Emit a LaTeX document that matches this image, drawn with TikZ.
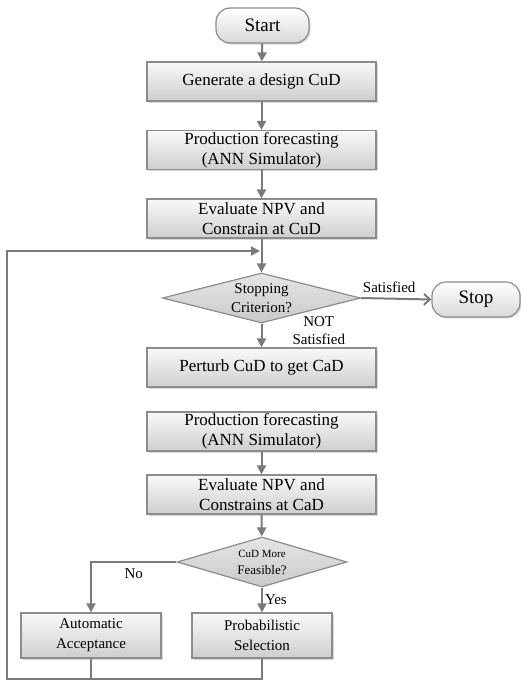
\documentclass[tikz,border=0pt]{standalone}
\usepackage{fontspec}
\setmainfont{Liberation Serif}
\usetikzlibrary{shapes.geometric,arrows.meta,shadows}
\definecolor{flowgray}{RGB}{122,122,122}
\definecolor{edgegray}{RGB}{140,140,140}
\begin{document}
\begin{tikzpicture}[x=1pt,y=-1pt]
    \tikzstyle{every node}+=[inner sep=0pt]
    \tikzstyle{procbox}=[rectangle, draw=edgegray, line width=1.2pt, top color=gray!5, bottom color=gray!38, drop shadow={opacity=0.3,shadow xshift=1.5pt,shadow yshift=-1.5pt}, minimum width=229pt, minimum height=39pt, align=center, font=\fontsize{17}{20}\selectfont]
    \tikzstyle{smallbox}=[procbox, minimum width=140pt, minimum height=45pt, font=\fontsize{15}{20}\selectfont]
    \tikzstyle{termbox}=[rectangle, rounded corners=14pt, draw=edgegray, line width=1.2pt, top color=white, bottom color=gray!30, drop shadow={opacity=0.3,shadow xshift=1.5pt,shadow yshift=-1.5pt}, minimum height=35pt, font=\fontsize{19}{22}\selectfont]
    \tikzstyle{decbox}=[diamond, draw=edgegray, line width=1.2pt, top color=gray!20, bottom color=gray!42, align=center, font=\fontsize{15}{19}\selectfont]
    \tikzstyle{flowline}=[draw=flowgray, line width=2pt]
    \tikzstyle{flowarrow}=[flowline, -{Triangle[length=9pt,width=9pt]}]
    \tikzstyle{flowlabel}=[font=\fontsize{15}{18}\selectfont, align=center]
    \useasboundingbox (0,0) rectangle (521,681);
    \node [termbox, minimum width=93pt] (start) at (262.5,25.5) {Start};
    \node [procbox] (gen) at (261.5,81.5) {Generate a design CuD};
    \node [procbox] (prod1) at (261.5,150) {Production forecasting\\(ANN Simulator)};
    \node [procbox] (eval1) at (261.5,218.5) {Evaluate NPV and\\Constrain at CuD};
    \node [decbox, shape aspect=3.9, minimum width=198pt, minimum height=50pt] (crit) at (261.5,298) {Stopping\\Criterion?};
    \node [termbox, minimum width=88pt] (stop) at (476,299.5) {Stop};
    \node [procbox] (perturb) at (261.5,367.5) {Perturb CuD to get CaD};
    \node [procbox] (prod2) at (261.5,431.5) {Production forecasting\\(ANN Simulator)};
    \node [procbox] (eval2) at (261.5,494.5) {Evaluate NPV and\\Constrains at CaD};
    \node [decbox, shape aspect=3.4, minimum width=170pt, minimum height=50pt, font=\fontsize{13}{17}\selectfont] (feas) at (262,562) {{\fontsize{11}{13}\selectfont CuD More}\\Feasible?};
    \node [smallbox] (auto) at (91,635.5) {Automatic\\Acceptance};
    \node [smallbox] (prob) at (262,635.5) {Probabilistic\\Selection};
    \coordinate (loopbl) at (7,679);
    \coordinate (looptl) at (7,251);
    \coordinate (loopin) at (260,251);
    \draw [flowarrow] (start) -- (gen);
    \draw [flowarrow] (gen) -- (prod1);
    \draw [flowarrow] (prod1) -- (eval1);
    \draw [flowarrow] (eval1) -- (crit);
    \draw [flowline, -{Straight Barb[length=6pt,width=11pt]}] (crit.east) -- node [flowlabel, above=5pt, pos=0.4] {Satisfied} (stop.west);
    \draw [flowarrow] (crit) -- node [flowlabel, right=30pt, yshift=5pt] {NOT\\Satisfied} (perturb);
    \draw [flowarrow] (prod2) -- (eval2);
    \draw [flowarrow] (eval2) -- (feas);
    \draw [flowarrow] (feas.west) -| node [flowlabel, pos=0.25, below=6pt] {No} (auto.north);
    \draw [flowarrow] (feas) -- node [flowlabel, right=2pt] {Yes} (prob);
    \draw [flowline] (auto.south) -- (auto.south |- loopbl);
    \draw [flowarrow] (prob.south) |- (loopbl) -- (looptl) -- (loopin);
\end{tikzpicture}
\end{document}
